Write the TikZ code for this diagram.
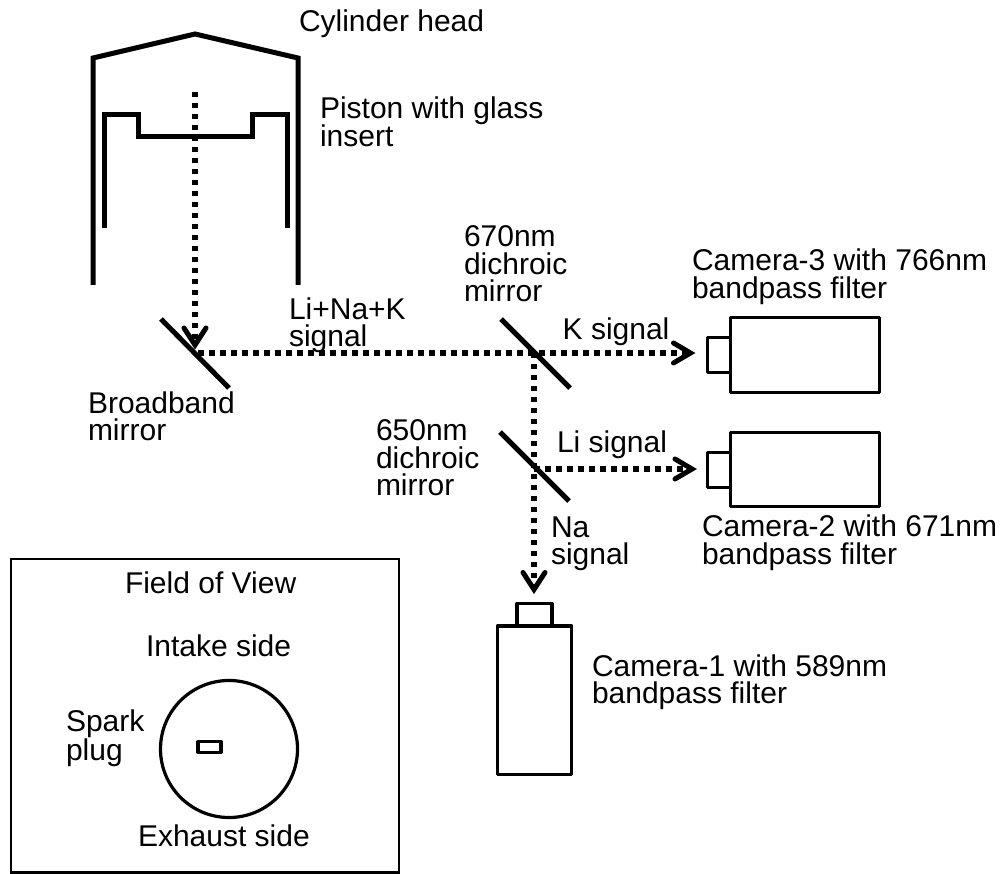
\documentclass[tikz,border=0pt]{standalone}
\usepackage{fontspec}
\setmainfont{Liberation Sans}
\usetikzlibrary{calc}
\tikzset{
  wall/.style={line width=5pt,line cap=butt,line join=miter},
  thin box/.style={draw,line width=3.2pt,line join=round,inner sep=0pt,outer sep=0pt},
  ray/.style={line width=5.2pt,dash pattern=on 5.5pt off 5.5pt},
  headtip/.style={line width=5pt,line cap=round,line join=miter},
  txt/.style={font=\fontsize{30}{27.5}\selectfont,align=left,inner sep=0pt,outer sep=0pt,anchor=base west},
  mirror/.style={line width=5pt}
}
\begin{document}
\begin{tikzpicture}[x=1pt,y=-1pt]
\useasboundingbox (0,0) rectangle (1005,874);
% cylinder
\draw[wall] (93,285) -- (93,58) -- (195,34) -- (298,58) -- (298,285);
\draw[wall] (104,228) -- (104,115) -- (138,115) -- (138,137) -- (252,137) -- (252,115) -- (287,115) -- (287,228);
% anchor points
\coordinate (start) at (195,92);
\coordinate (bb) at (198,353);
\coordinate (d1) at (534,353);
\coordinate (d2) at (534,469);
% mirrors
\draw[mirror] (161,319) -- (229,388);
\draw[mirror] (501,319) -- (570,388);
\draw[mirror] (500,432) -- (569,501);
% cameras
\node[thin box,minimum width=149pt,minimum height=74.5pt,anchor=north west] (cam3) at (730.5,317.7) {};
\node[thin box,minimum width=23pt,minimum height=35pt,anchor=east] (lens3) at (cam3.west) {};
\node[thin box,minimum width=149pt,minimum height=74pt,anchor=north west] (cam2) at (730.3,432.7) {};
\node[thin box,minimum width=23pt,minimum height=35pt,anchor=east] (lens2) at (cam2.west) {};
\node[thin box,minimum width=74.5pt,minimum height=148.3pt,anchor=north west] (cam1) at (497.3,626) {};
\node[thin box,minimum width=35pt,minimum height=22.7pt,anchor=south] (lens1) at (cam1.north) {};
\coordinate (t3) at (690.5,353);
\coordinate (t2) at (692,469);
\coordinate (t1) at (534,589.5);
\coordinate (t0) at (195,345);
% rays
\draw[ray] (start) -- (t0);
\draw[ray] (bb) -- (t3);
\draw[ray] (d1) -- (t1);
\draw[ray] (d2) -- (t2);
% arrow heads
\draw[headtip] ($(t0)+(-11,-17)$) -- (t0) -- ($(t0)+(11,-17)$);
\draw[headtip] ($(t3)+(-17,-10)$) -- (t3) -- ($(t3)+(-17,10)$);
\draw[headtip] ($(t2)+(-17,-10)$) -- (t2) -- ($(t2)+(-17,10)$);
\draw[headtip] ($(t1)+(-11,-17)$) -- (t1) -- ($(t1)+(11,-17)$);
% labels (multi-line nodes are placed by the baseline of their last line)
\node[txt] (l1) at (299,32) {Cylinder head};
\node[txt] (l2) at (320,147) {Piston with glass\\insert};
\node[txt] (l3) at (289,347) {Li+Na+K\\signal};
\node[txt] (l4) at (88,441) {Broadband\\mirror};
\node[txt] (l5) at (464,302) {670nm\\dichroic\\mirror};
\node[txt] (l6) at (376,496) {650nm\\dichroic\\mirror};
\node[txt] (l7) at (562.7,340) {K signal};
\node[txt] (l8) at (557,453) {Li signal};
\node[txt] (l9) at (551,565) {Na\\signal};
\node[txt] (l10) at (692,298.5) {Camera-3 with 766nm\\bandpass filter};
\node[txt] (l11) at (702,564.5) {Camera-2 with 671nm\\bandpass filter};
\node[txt] (l12) at (592,703.5) {Camera-1 with 589nm\\bandpass filter};
% field of view
\node[draw,line width=2.7pt,minimum width=388pt,minimum height=313.7pt,inner sep=0pt,outer sep=0pt,anchor=north west] (fov) at (11,559) {};
\node[draw,circle,line width=3.2pt,minimum size=137pt,inner sep=0pt,outer sep=0pt] (bore) at (229,749) {};
\node[thin box,minimum width=23pt,minimum height=10.5pt] (plug) at (209.5,747) {};
\node[txt] (f1) at (125,594) {Field of View};
\node[txt] (f2) at (146,656) {Intake side};
\node[txt] (f3) at (66,760) {Spark\\plug};
\node[txt] (f4) at (138,846) {Exhaust side};
\end{tikzpicture}
\end{document}
